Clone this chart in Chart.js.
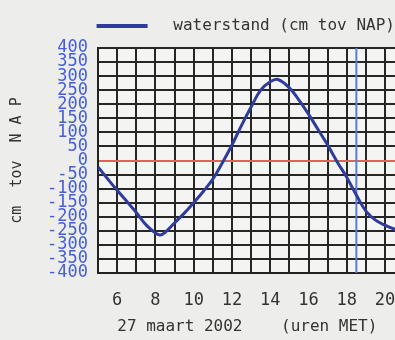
<!DOCTYPE html>
<html>
<head>
<meta charset="utf-8">
<script src="https://cdn.jsdelivr.net/npm/chart.js@4"></script>
<style>
  html, body { margin: 0; padding: 0; background: #ededeb; overflow: hidden; }
  #wrap { width: 520px; height: 340px; }
</style>
</head>
<body>
<div id="wrap"><canvas id="myChart" width="520" height="340"></canvas></div>
<script>
const hours = [5, 5.5, 6, 6.5, 7, 7.5, 8, 8.25, 8.5, 9, 9.5, 10, 10.5, 11, 11.5, 12, 12.5, 13, 13.5, 14, 14.4, 15, 15.5, 16, 16.5, 17, 17.5, 18, 18.5, 19, 19.5, 20, 20.5, 21];
const level = [-23, -65, -106, -145, -185, -228, -258, -265, -256, -222, -188, -150, -110, -66, -8, 55, 125, 190, 250, 280, 288, 258, 215, 165, 110, 55, -5, -60, -123, -180, -212, -230, -244, -252];
const yTicks = [-400, 400, 50];
const xLabels = [6, 8, 10, 12, 14, 16, 18, 20];
const nowHour = [18.5];

const mono = "'DejaVu Sans Mono', monospace";

// light plot background
const plotBg = {
  id: "plotBg",
  beforeDraw(chart) {
    const a = chart.chartArea;
    const ctx = chart.ctx;
    ctx.save();
    ctx.fillStyle = "#f4f4f2";
    ctx.fillRect(a.left, a.top, a.right - a.left, a.bottom - a.top);
    ctx.restore();
  },
};

new Chart(document.getElementById("myChart"), {
  type: "line",
  data: {
    datasets: [
      {
        label: "  waterstand (cm tov NAP)",
        data: hours.map((h, i) => ({ x: h, y: level[i] })),
        borderColor: "#2f3c9c",
        backgroundColor: "#2f3c9c",
        borderWidth: 3,
        pointRadius: 0,
        tension: 0.4,
        fill: false,
      },
      {
        label: "nu",
        data: [
          { x: nowHour[0], y: yTicks[0] },
          { x: nowHour[0], y: yTicks[1] },
        ],
        borderColor: "#5a7ddc",
        borderWidth: 2,
        pointRadius: 0,
        fill: false,
      },
    ],
  },
  options: {
    responsive: false,
    animation: false,
    layout: { padding: { left: 0, right: 27, top: -4, bottom: 0 } },
    plugins: {
      legend: {
        labels: {
          filter: (item) => item.datasetIndex === 0,
          boxWidth: 48,
          boxHeight: 1,
          padding: 22,
          color: "#333",
          font: { family: mono, size: 16 },
        },
      },
      // empty spacer between legend and plot
      subtitle: {
        display: true,
        text: "",
        weight: 500,
        font: { size: 1, lineHeight: 1 },
        padding: { top: 3, bottom: 0 },
      },
      tooltip: { enabled: false },
    },
    scales: {
      x: {
        type: "linear",
        min: 5,
        max: 25.64,
        afterFit: (s) => { s.height = 67; },
        border: { color: "#222", width: 2 },
        grid: { color: "#262626", lineWidth: 2, drawTicks: false },
        ticks: {
          stepSize: 1,
          autoSkip: false,
          maxRotation: 0,
          padding: 17,
          color: "#333",
          font: { family: mono, size: 17 },
          callback: (v) => (xLabels.includes(v) ? String(v) : ""),
        },
        title: {
          display: true,
          align: "start",
          text: "  27 maart 2002    (uren MET)",
          color: "#333",
          font: { family: mono, size: 16 },
          padding: { top: 0, bottom: 4 },
        },
      },
      y: {
        min: yTicks[0],
        max: yTicks[1],
        afterFit: (s) => { s.width = 98; },
        border: { color: "#222", width: 2 },
        grid: {
          lineWidth: 2,
          drawTicks: false,
          color: (ctx) => (ctx.tick && ctx.tick.value === 0 ? "#e4605e" : "#262626"),
        },
        ticks: {
          stepSize: yTicks[2],
          autoSkip: false,
          padding: 10,
          color: "#4660d4",
          font: { family: mono, size: 17 },
        },
        title: {
          display: true,
          text: "cm  tov  N A P",
          color: "#333",
          font: { family: mono, size: 15 },
          padding: { top: 8, bottom: 0 },
        },
      },
    },
  },
  plugins: [plotBg],
});
</script>
</body>
</html>
